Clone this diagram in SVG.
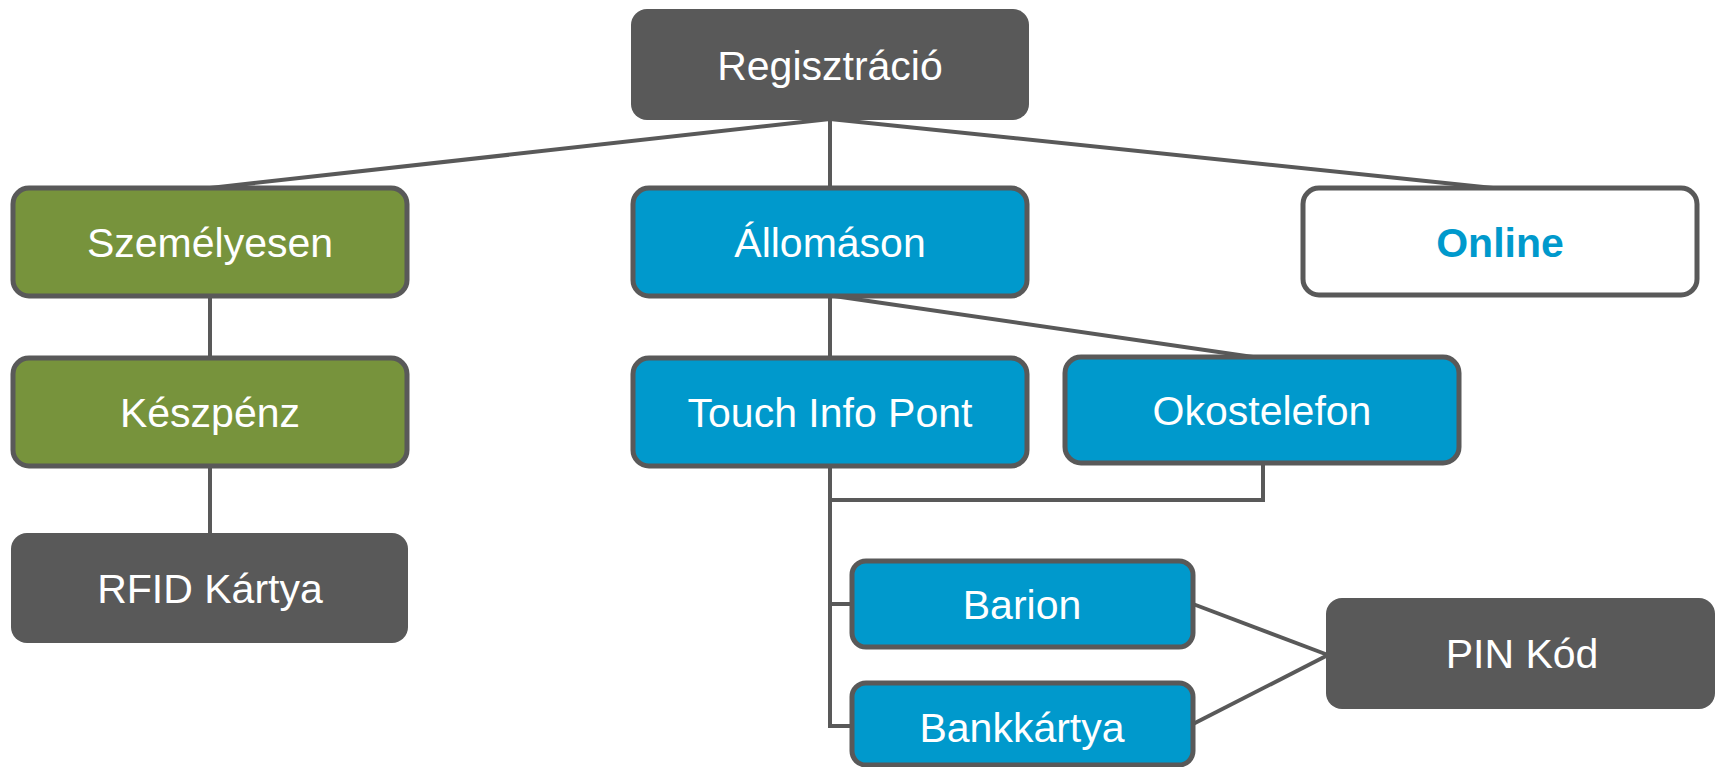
<svg xmlns="http://www.w3.org/2000/svg" width="1717" height="767" viewBox="0 0 1717 767">
<style>
.lbl{font-family:"Liberation Sans",Arial,sans-serif;font-size:41px;fill:#ffffff;text-anchor:middle}
.on{font-family:"Liberation Sans",Arial,sans-serif;font-size:41px;font-weight:bold;fill:#0099CC;text-anchor:middle}
.green{fill:#77933C;stroke:#595959;stroke-width:5}
.blue{fill:#0099CC;stroke:#595959;stroke-width:5}
.white{fill:#ffffff;stroke:#595959;stroke-width:5}
.dark{fill:#595959}
.conn{fill:none;stroke:#595959;stroke-width:4}
</style>
<rect width="1717" height="767" fill="#ffffff"/>
<g id="connectors">
<line class="conn" x1="830" y1="118" x2="830" y2="188"/>
<line class="conn" x1="830" y1="119" x2="210" y2="188"/>
<line class="conn" x1="830" y1="119" x2="1493" y2="188"/>
<line class="conn" x1="210" y1="296" x2="210" y2="358"/>
<line class="conn" x1="210" y1="466" x2="210" y2="534"/>
<line class="conn" x1="830" y1="296" x2="830" y2="358"/>
<line class="conn" x1="834" y1="296" x2="1253" y2="357"/>
<polyline class="conn" points="1263,463 1263,500 830,500"/>
<polyline class="conn" points="830,466 830,726 852,726"/>
<line class="conn" x1="830" y1="604" x2="852" y2="604"/>
<line class="conn" x1="1193" y1="604" x2="1328" y2="655"/>
<line class="conn" x1="1193" y1="724" x2="1328" y2="655"/>
</g>
<g id="regisztracio">
<rect class="dark" x="631" y="9" width="398" height="111" rx="16"/>
<text class="lbl" x="830" y="80">Regisztráció</text>
</g>
<g id="szemelyesen">
<rect class="green" x="13" y="188" width="394" height="108" rx="16"/>
<text class="lbl" x="210" y="257">Személyesen</text>
</g>
<g id="keszpenz">
<rect class="green" x="13" y="358" width="394" height="108" rx="16"/>
<text class="lbl" x="210" y="427">Készpénz</text>
</g>
<g id="rfid">
<rect class="dark" x="11" y="533" width="397" height="110" rx="16"/>
<text class="lbl" x="210" y="603">RFID Kártya</text>
</g>
<g id="allomason">
<rect class="blue" x="633" y="188" width="394" height="108" rx="16"/>
<text class="lbl" x="830" y="257">Állomáson</text>
</g>
<g id="online">
<rect class="white" x="1303" y="188" width="394" height="107" rx="16"/>
<text class="on" x="1500" y="257">Online</text>
</g>
<g id="touch">
<rect class="blue" x="633" y="358" width="394" height="108" rx="16"/>
<text class="lbl" x="830" y="427">Touch Info Pont</text>
</g>
<g id="okostelefon">
<rect class="blue" x="1065" y="357" width="394" height="106" rx="16"/>
<text class="lbl" x="1262" y="425">Okostelefon</text>
</g>
<g id="barion">
<rect class="blue" x="852" y="561" width="341" height="86" rx="14"/>
<text class="lbl" x="1022" y="619">Barion</text>
</g>
<g id="bankkartya">
<rect class="blue" x="852" y="683" width="341" height="82" rx="14"/>
<text class="lbl" x="1022" y="742">Bankkártya</text>
</g>
<g id="pin">
<rect class="dark" x="1326" y="598" width="389" height="111" rx="16"/>
<text class="lbl" x="1522" y="668">PIN Kód</text>
</g>
</svg>
